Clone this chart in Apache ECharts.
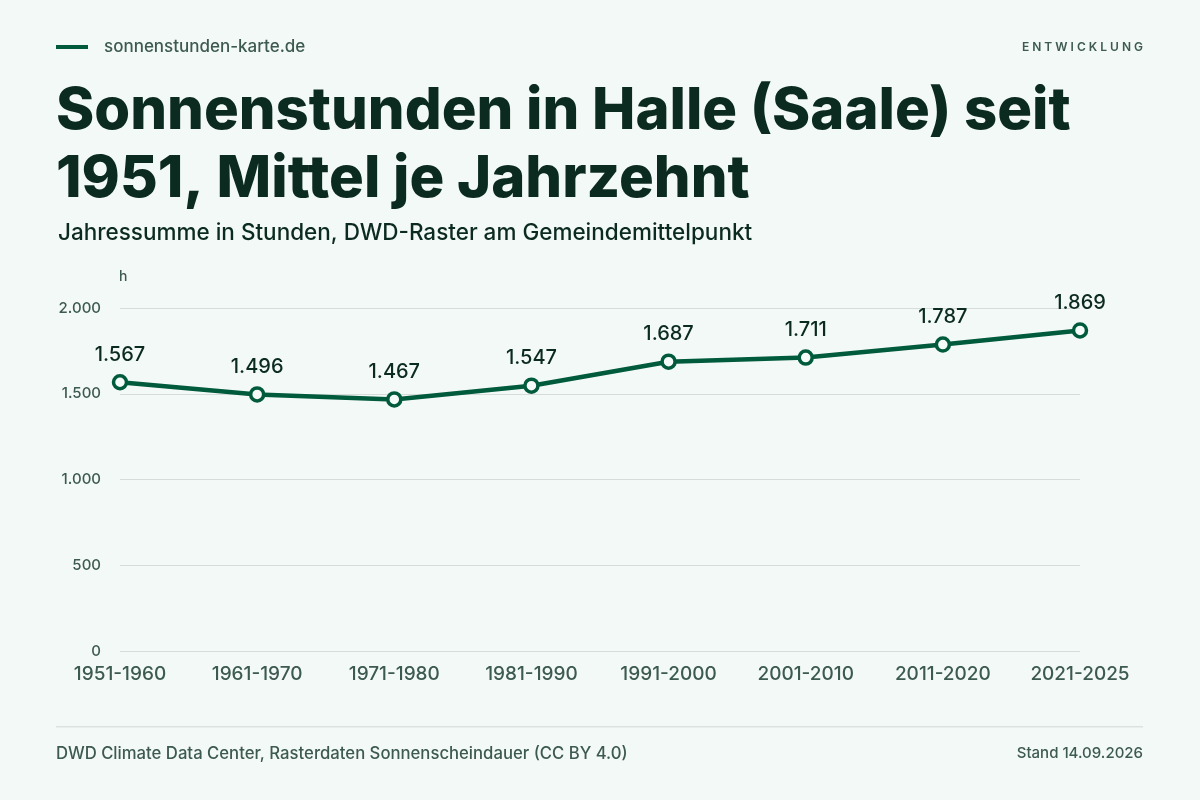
<!DOCTYPE html>
<html>
<head>
<meta charset="utf-8">
<script src="https://cdn.jsdelivr.net/npm/echarts@6/dist/echarts.min.js"></script>
<style>
html,body{margin:0;padding:0;background:#f3f9f6;}
#c{width:1200px;height:800px;}
</style>
</head>
<body>
<div id="c"></div>
<script>
const categories = ['1951-1960','1961-1970','1971-1980','1981-1990','1991-2000','2001-2010','2011-2020','2021-2025'];
const values = [1567, 1496, 1467, 1547, 1687, 1711, 1787, 1869];
const yTicks = [0, 500, 1000, 1500, 2000];

const FONT = 'Inter, "Noto Sans", sans-serif';
const DARK = '#0b2a20';
const MUTED = '#3d5a50';
const GREEN = '#005a3c';

const fmt = v => v.toLocaleString('de-DE');

const chart = echarts.init(document.getElementById('c'), null, {renderer:'canvas'});
chart.setOption({
  backgroundColor: '#f3f9f6',
  textStyle: {fontFamily: FONT},
  graphic: [
    {type:'rect', shape:{x:56, y:45, width:32, height:4}, style:{fill:GREEN}},
    {type:'text', left:104, top:38, style:{text:'sonnenstunden-karte.de', font:'500 17px '+FONT, fill:MUTED}},
    {type:'text', right:57, top:41, style:{text:'E N T W I C K L U N G', font:'600 12px '+FONT, fill:MUTED}},
    {type:'text', left:56, top:78, style:{text:'Sonnenstunden in Halle (Saale) seit\n1951, Mittel je Jahrzehnt', font:'800 58px '+FONT, fill:DARK, lineHeight:68}},
    {type:'text', left:58, top:222, style:{text:'Jahressumme in Stunden, DWD-Raster am Gemeindemittelpunkt', font:'500 22.5px '+FONT, fill:DARK}},
    {type:'text', left:119, top:270, style:{text:'h', font:'500 14px '+FONT, fill:MUTED}},
    {type:'rect', shape:{x:56, y:726, width:1087, height:1.5}, style:{fill:'#dce3df'}},
    {type:'text', left:56, top:745, style:{text:'DWD Climate Data Center, Rasterdaten Sonnenscheindauer (CC BY 4.0)', font:'500 16.7px '+FONT, fill:MUTED}},
    {type:'text', right:57, top:746, style:{text:'Stand 14.09.2026', font:'500 15px '+FONT, fill:MUTED}}
  ],
  grid: {left:120, right:120, top:308, bottom:149, containLabel:false},
  xAxis: {
    type:'category', data:categories, boundaryGap:false,
    axisLine:{show:false}, axisTick:{show:false},
    axisLabel:{color:MUTED, fontSize:19, fontWeight:500, margin:14, fontFamily:FONT}
  },
  yAxis: {
    type:'value', min:yTicks[0], max:yTicks[yTicks.length-1], interval:500,
    axisLine:{show:false}, axisTick:{show:false},
    axisLabel:{color:MUTED, fontSize:15, fontWeight:500, margin:19, fontFamily:FONT, formatter: v => fmt(v)},
    splitLine:{lineStyle:{color:'#d6dcd9', width:1}}
  },
  series: [{
    type:'line', data:values,
    lineStyle:{color:GREEN, width:4.5},
    symbol:'circle', symbolSize:13,
    itemStyle:{color:'#f5fbf8', borderColor:GREEN, borderWidth:3.5},
    label:{show:true, position:'top', distance:9, color:DARK, fontSize:20, fontWeight:500, fontFamily:FONT, formatter: p => fmt(p.value)},
    animation:false
  }],
  animation:false
});
</script>
</body>
</html>
